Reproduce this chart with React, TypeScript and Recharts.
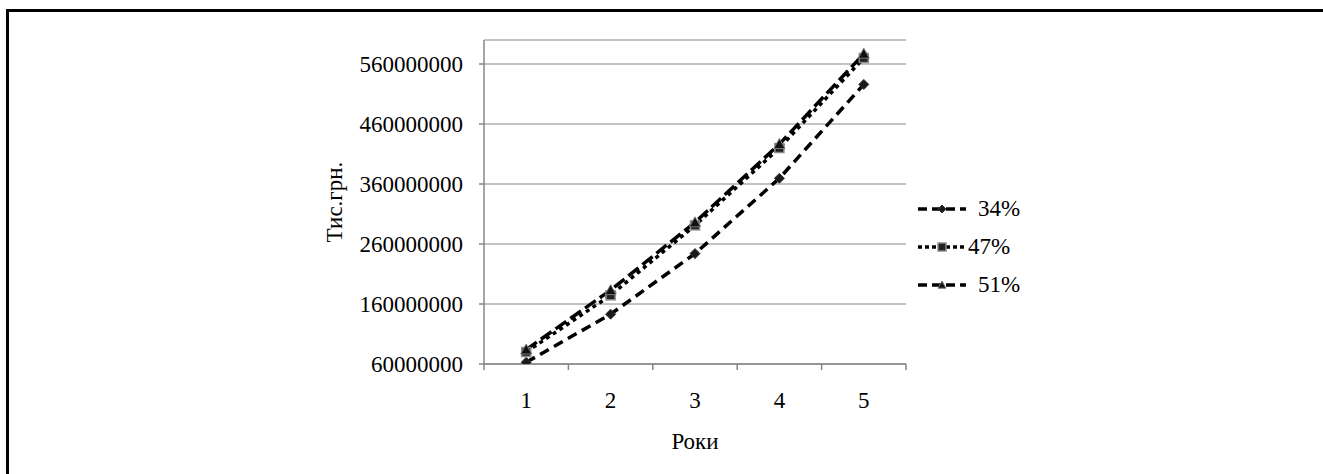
import React from "react";
import {
  LineChart,
  Line,
  XAxis,
  YAxis,
  CartesianGrid,
  Legend,
} from "recharts";

// Роки (years)
const years = [1, 2, 3, 4, 5];

// Тис.грн. values per scenario
const rate34 = [62800000, 143000000, 244000000, 369500000, 526000000];
const rate47 = [80000000, 174500000, 291000000, 420000000, 570000000];
const rate51 = [84000000, 183000000, 296000000, 426500000, 577000000];

const yTicks = [60000000, 160000000, 260000000, 360000000, 460000000, 560000000];
const yDomain = [60000000, 600000000];

const data = years.map((year, i) => ({
  year,
  r34: rate34[i],
  r47: rate47[i],
  r51: rate51[i],
}));

// tick marks sit between the categories, labels at the categories
const xTicks = [
  ...years.flatMap((y) => [y - 0.5, y]),
  years[years.length - 1] + 0.5,
];

const FONT = "'Liberation Serif', 'Times New Roman', serif";
const AXIS = "#868686";

const Diamond = ({ cx, cy, size = 5 }) => (
  <polygon
    points={`${cx},${cy - size} ${cx + size},${cy} ${cx},${cy + size} ${cx - size},${cy}`}
    fill="#1a1a1a"
    stroke="#333"
    strokeWidth={1}
  />
);

const Square = ({ cx, cy, size = 4.5 }) => (
  <rect
    x={cx - size}
    y={cy - size}
    width={size * 2}
    height={size * 2}
    fill="#222"
    stroke="#8a8a8a"
    strokeWidth={1.5}
  />
);

const Triangle = ({ cx, cy, size = 5.5 }) => (
  <polygon
    points={`${cx},${cy - size} ${cx + size},${cy + size * 0.8} ${cx - size},${cy + size * 0.8}`}
    fill="#111"
    stroke="#777"
    strokeWidth={1}
  />
);

const series = [
  { key: "r34", name: "34%", dash: "10 6", Marker: Diamond },
  { key: "r47", name: "47%", dash: "4 4", Marker: Square },
  { key: "r51", name: "51%", dash: "13 5", Marker: Triangle },
];

const XTick = (props) => {
  const { x, y, payload } = props;
  const v = payload.value;
  if (Number.isInteger(v)) {
    return (
      <text
        x={x}
        y={y + 44}
        textAnchor="middle"
        fill="#000"
        fontSize={23}
        fontFamily={FONT}
      >
        {v}
      </text>
    );
  }
  return <line x1={x} x2={x} y1={y} y2={y + 6} stroke={AXIS} strokeWidth={1.5} />;
};

const LegendContent = () => (
  <div style={{ display: "flex", flexDirection: "column", gap: "12px" }}>
    {series.map((s) => (
      <div
        key={s.key}
        style={{
          display: "flex",
          alignItems: "center",
          height: "26px",
          fontFamily: FONT,
          fontSize: "23px",
          color: "#000",
        }}
      >
        <svg width={52} height={20} style={{ marginRight: s.name === "47%" ? 0 : 10 }}>
          <line
            x1={2}
            x2={50}
            y1={10}
            y2={10}
            stroke="#000"
            strokeWidth={3.5}
            strokeDasharray={s.dash === "4 4" ? "4 3" : "9 5"}
          />
          <s.Marker cx={26} cy={10} size={4} />
        </svg>
        {s.name}
      </div>
    ))}
  </div>
);

export default function App() {
  return (
    <div
      style={{
        position: "absolute",
        left: 0,
        top: 0,
        width: 1323,
        height: 474,
        background: "#fff",
        overflow: "hidden",
      }}
    >
      <style>{`body{margin:0}`}</style>
      <div
        style={{
          position: "absolute",
          left: 6,
          top: 9,
          width: 1330,
          height: 480,
          borderLeft: "3px solid #000",
          borderTop: "3px solid #000",
        }}
      />
      <LineChart
        width={1323}
        height={474}
        data={data}
        margin={{ top: 40, right: 417, left: 300, bottom: 20 }}
        style={{ position: "absolute", left: 0, top: 0 }}
      >
        <CartesianGrid vertical={false} stroke={AXIS} strokeWidth={1} />
        <XAxis
          dataKey="year"
          type="number"
          domain={[years[0] - 0.5, years[years.length - 1] + 0.5]}
          ticks={xTicks}
          interval={0}
          tickSize={0}
          tickMargin={0}
          tickLine={false}
          tick={<XTick />}
          height={90}
          axisLine={{ stroke: AXIS, strokeWidth: 1.5 }}
          label={{
            value: "Роки",
            position: "insideBottom",
            offset: 5,
            style: { fill: "#000", fontFamily: FONT, fontSize: 23 },
          }}
        />
        <YAxis
          domain={yDomain}
          ticks={yTicks}
          interval={0}
          width={184}
          tickSize={5}
          tickMargin={16}
          tickLine={{ stroke: AXIS, strokeWidth: 1.5 }}
          axisLine={{ stroke: AXIS, strokeWidth: 1.5 }}
          tick={{ fill: "#000", fontSize: 23, fontFamily: FONT }}
          allowDataOverflow
          label={{
            value: "Тис.грн.",
            angle: -90,
            position: "insideLeft",
            offset: 34,
            style: {
              fill: "#000",
              fontFamily: FONT,
              fontSize: 23,
              textAnchor: "middle",
            },
          }}
        />
        <Legend
          layout="vertical"
          align="center"
          verticalAlign="middle"
          content={<LegendContent />}
          wrapperStyle={{ left: 916, top: 196, width: 140 }}
        />
        {series.map((s) => (
          <Line
            key={s.key}
            type="linear"
            dataKey={s.key}
            name={s.name}
            stroke="#000"
            strokeWidth={3.5}
            strokeDasharray={s.dash}
            isAnimationActive={false}
            dot={(p) => <s.Marker key={`${s.key}-${p.index}`} cx={p.cx} cy={p.cy} />}
            activeDot={false}
          />
        ))}
      </LineChart>
    </div>
  );
}
